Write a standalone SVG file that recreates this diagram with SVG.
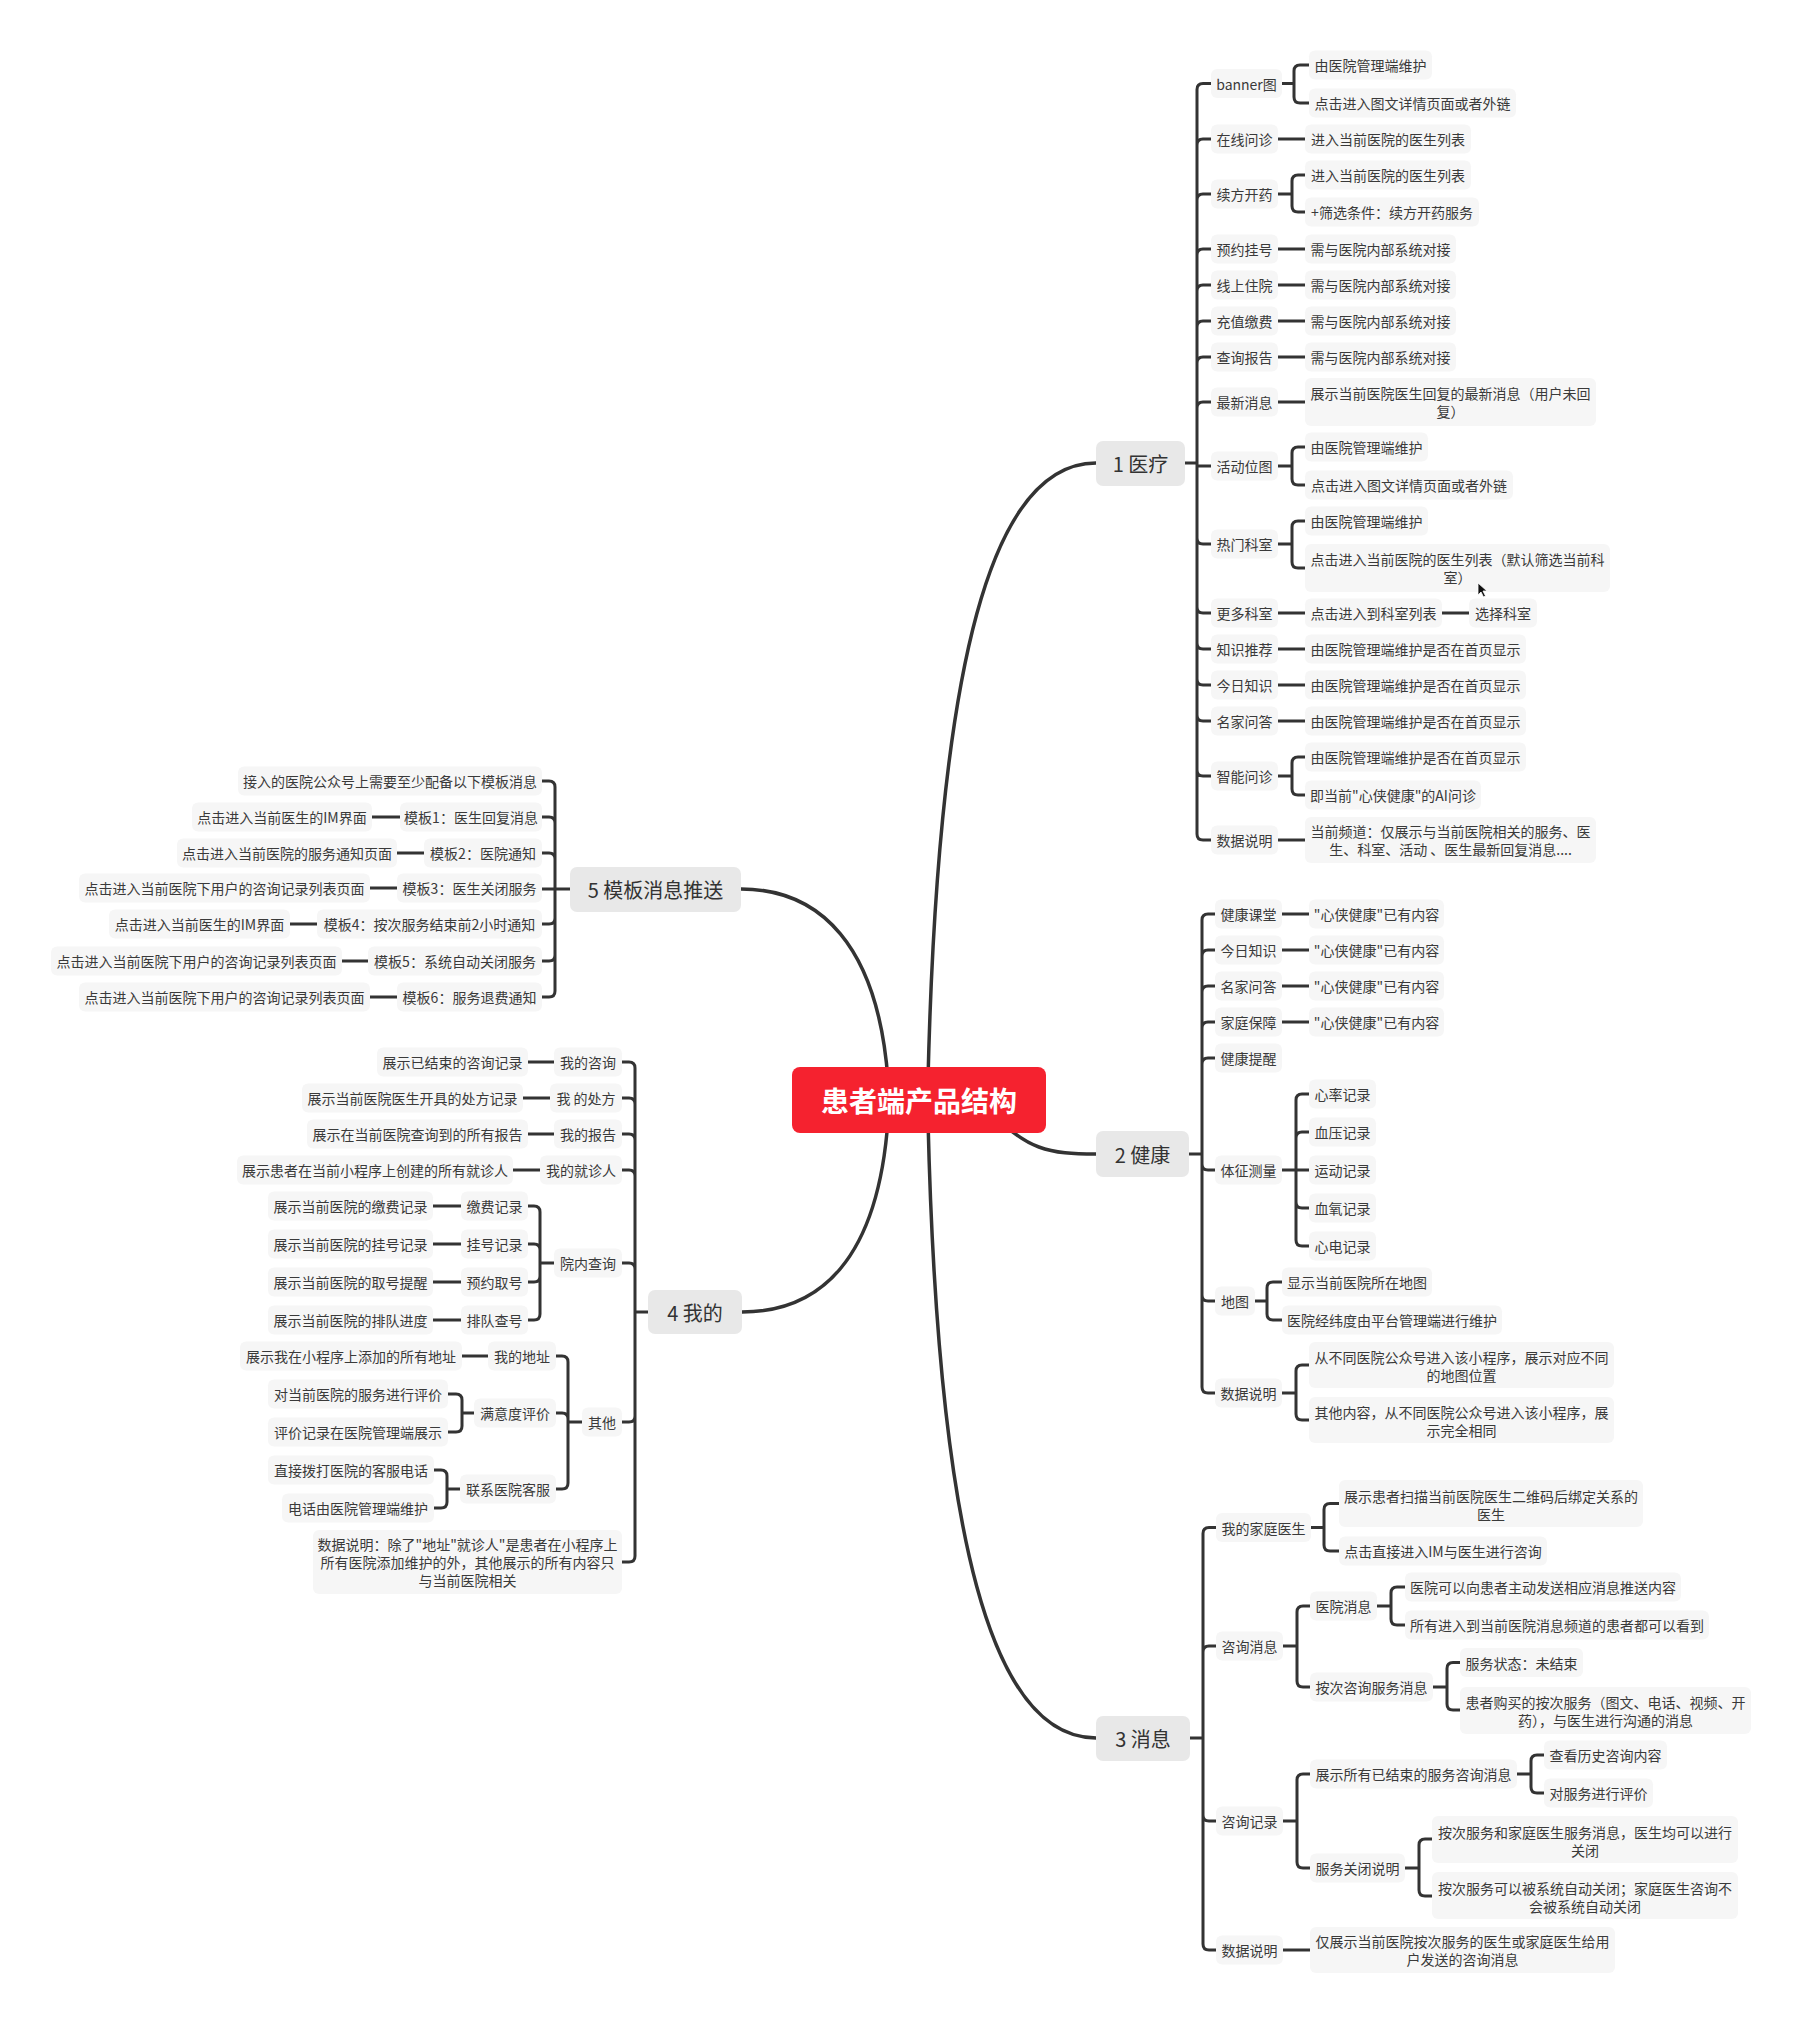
<svg xmlns="http://www.w3.org/2000/svg" width="1802" height="2024" viewBox="0 0 1802 2024">
<style>
text{font-family:"Noto Sans CJK SC","Noto Sans",sans-serif;fill:#3a3a3a;text-anchor:middle;dominant-baseline:central;font-size:14px}
.l{fill:#f6f6f6}
.b{fill:#e8e8e8}
.bt{font-size:20px;fill:#333}
.c{fill:none;stroke:#333;stroke-width:3}
.m{fill:none;stroke:#333;stroke-width:3.5}
</style>
<rect width="1802" height="2024" fill="#fff"/>
<g id="connectors">
<path class="m" d="M928,1080 C938,660 992,463 1096,463"/>
<path class="m" d="M990,1110 C1025,1150 1050,1154 1096,1154"/>
<path class="m" d="M928,1120 C938,1540 992,1738 1096,1738"/>
<path class="m" d="M888,1120 C878,1260 820,1312 742,1312"/>
<path class="m" d="M888,1080 C878,945 820,889 741,889"/>
<!-- medical spine -->
<path class="c" d="M1185,463H1197V89.5Q1197,83.5 1203,83.5H1211
M1185,463H1197V145Q1197,139 1203,139H1211
M1185,463H1197V200Q1197,194 1203,194H1211
M1185,463H1197V255Q1197,249 1203,249H1211
M1185,463H1197V291Q1197,285 1203,285H1211
M1185,463H1197V327Q1197,321 1203,321H1211
M1185,463H1197V363Q1197,357 1203,357H1211
M1185,463H1197V408Q1197,402 1203,402H1211
M1185,463H1197V466H1211
M1185,463H1197V538Q1197,544 1203,544H1211
M1185,463H1197V607Q1197,613 1203,613H1211
M1185,463H1197V643Q1197,649 1203,649H1211
M1185,463H1197V679Q1197,685 1203,685H1211
M1185,463H1197V715Q1197,721 1203,721H1211
M1185,463H1197V770Q1197,776 1203,776H1211
M1185,463H1197V834Q1197,840 1203,840H1211"/>
<!-- medical level 2 -->
<path class="c" d="M1282,83.5H1294V71Q1294,65 1300,65H1309M1282,83.5H1294V97Q1294,103 1300,103H1309"/>
<path class="c" d="M1278,139H1305"/>
<path class="c" d="M1278,194H1292V181Q1292,175 1298,175H1305M1278,194H1292V206Q1292,212 1298,212H1305"/>
<path class="c" d="M1278,249H1305M1278,285H1305M1278,321H1305M1278,357H1305M1278,402H1305"/>
<path class="c" d="M1278,466H1292V453Q1292,447 1298,447H1305M1278,466H1292V479Q1292,485 1298,485H1305"/>
<path class="c" d="M1278,544H1292V527Q1292,521 1298,521H1305M1278,544H1292V562Q1292,568 1298,568H1305"/>
<path class="c" d="M1278,613H1305M1442,613H1469M1278,649H1305M1278,685H1305M1278,721H1305"/>
<path class="c" d="M1278,776H1292V763Q1292,757 1298,757H1305M1278,776H1292V789Q1292,795 1298,795H1305"/>
<path class="c" d="M1278,840H1305"/>
<!-- health spine -->
<path class="c" d="M1189,1154H1202V920Q1202,914 1208,914H1215
M1189,1154H1202V956Q1202,950 1208,950H1215
M1189,1154H1202V992Q1202,986 1208,986H1215
M1189,1154H1202V1028Q1202,1022 1208,1022H1215
M1189,1154H1202V1064Q1202,1058 1208,1058H1215
M1189,1154H1202V1164Q1202,1170 1208,1170H1215
M1189,1154H1202V1295Q1202,1301 1208,1301H1215
M1189,1154H1202V1387Q1202,1393 1208,1393H1215"/>
<!-- health level 2 -->
<path class="c" d="M1282,914H1309M1282,950H1309M1282,986H1309M1282,1022H1309"/>
<path class="c" d="M1282,1170H1296V1100Q1296,1094 1302,1094H1309
M1282,1170H1296V1138Q1296,1132 1302,1132H1309
M1282,1170H1309
M1282,1170H1296V1202Q1296,1208 1302,1208H1309
M1282,1170H1296V1240Q1296,1246 1302,1246H1309"/>
<path class="c" d="M1255,1301H1267V1288Q1267,1282 1273,1282H1282M1255,1301H1267V1314Q1267,1320 1273,1320H1282"/>
<path class="c" d="M1282,1393H1296V1371Q1296,1365 1302,1365H1309M1282,1393H1296V1414Q1296,1420 1302,1420H1309"/>
<!-- message spine -->
<path class="c" d="M1190,1738H1203V1533.5Q1203,1527.5 1209,1527.5H1216
M1190,1738H1203V1652Q1203,1646 1209,1646H1216
M1190,1738H1203V1815Q1203,1821 1209,1821H1216
M1190,1738H1203V1944Q1203,1950 1209,1950H1216"/>
<!-- message level 2/3 -->
<path class="c" d="M1311,1527.5H1324V1509.5Q1324,1503.5 1330,1503.5H1339M1311,1527.5H1324V1545Q1324,1551 1330,1551H1339"/>
<path class="c" d="M1283,1646H1297V1612Q1297,1606 1303,1606H1310M1283,1646H1297V1681Q1297,1687 1303,1687H1310"/>
<path class="c" d="M1377,1606H1391V1593Q1391,1587 1397,1587H1405M1377,1606H1391V1619Q1391,1625 1397,1625H1405"/>
<path class="c" d="M1433,1687H1447V1668.5Q1447,1662.5 1453,1662.5H1460M1433,1687H1447V1704Q1447,1710 1453,1710H1460"/>
<path class="c" d="M1283,1821H1297V1780Q1297,1774 1303,1774H1310M1283,1821H1297V1862Q1297,1868 1303,1868H1310"/>
<path class="c" d="M1517,1774H1531V1761Q1531,1755 1537,1755H1544M1517,1774H1531V1787Q1531,1793 1537,1793H1544"/>
<path class="c" d="M1405,1868H1419V1845Q1419,1839 1425,1839H1432M1405,1868H1419V1890Q1419,1896 1425,1896H1432"/>
<path class="c" d="M1283,1950H1310"/>
<!-- template spine -->
<path class="c" d="M570,889H555V787Q555,781 549,781H542
M570,889H555V823Q555,817 549,817H542
M570,889H555V859Q555,853 549,853H542
M570,889H542
M570,889H555V918Q555,924 549,924H542
M570,889H555V955Q555,961 549,961H542
M570,889H555V991Q555,997 549,997H542"/>
<path class="c" d="M400,817H372M424,853H397M397,888H370M317,924H290M368,961H342M397,997H370"/>
<!-- mine spine -->
<path class="c" d="M648,1312H635V1068Q635,1062 629,1062H622
M648,1312H635V1104Q635,1098 629,1098H622
M648,1312H635V1140Q635,1134 629,1134H622
M648,1312H635V1176Q635,1170 629,1170H622
M648,1312H635V1269Q635,1263 629,1263H622
M648,1312H635V1416Q635,1422 629,1422H622
M648,1312H635V1556Q635,1562 629,1562H622"/>
<path class="c" d="M554,1062H528M550,1098H523M554,1134H528M540,1170H513"/>
<path class="c" d="M554,1263H540V1212Q540,1206 534,1206H528
M554,1263H540V1250Q540,1244 534,1244H528
M554,1263H540V1276Q540,1282 534,1282H528
M554,1263H540V1314Q540,1320 534,1320H528"/>
<path class="c" d="M461,1206H433M461,1244H433M461,1282H433M461,1320H433"/>
<path class="c" d="M582,1422H568V1362Q568,1356 562,1356H556
M582,1422H568V1419Q568,1413 562,1413H556
M582,1422H568V1483Q568,1489 562,1489H556"/>
<path class="c" d="M488,1356H462"/>
<path class="c" d="M474,1413H462V1400Q462,1394 456,1394H448M474,1413H462V1426Q462,1432 456,1432H448"/>
<path class="c" d="M460,1489H447V1476Q447,1470 441,1470H434M460,1489H447V1502Q447,1508 441,1508H434"/>
</g>

<g id="root"><rect x="792" y="1067" width="254" height="66" rx="8" fill="#f5222f"/><text x="919" y="1100" style="font-size:28px;font-weight:bold;fill:#fff">患者端产品结构</text></g>

<g id="b1"><rect class="b" x="1096" y="441" width="89" height="45" rx="7"/><text class="bt" x="1140.5" y="463">1 医疗</text></g>
<g id="b2"><rect class="b" x="1096" y="1131" width="93" height="46" rx="7"/><text class="bt" x="1142.5" y="1154">2 健康</text></g>
<g id="b3"><rect class="b" x="1096" y="1716" width="94" height="45" rx="7"/><text class="bt" x="1143" y="1738">3 消息</text></g>
<g id="b4"><rect class="b" x="648" y="1290" width="94" height="44" rx="7"/><text class="bt" x="695" y="1312">4 我的</text></g>
<g id="b5"><rect class="b" x="570" y="867" width="171" height="45" rx="7"/><text class="bt" x="655.5" y="889">5 模板消息推送</text></g>

<!-- medical -->
<g id="m1"><rect class="l" x="1211" y="69" width="71" height="29" rx="6"/><text x="1246.5" y="83.5">banner图</text></g>
<g id="m1a"><rect class="l" x="1309" y="50.5" width="123" height="29" rx="6"/><text x="1370.5" y="65">由医院管理端维护</text></g>
<g id="m1b"><rect class="l" x="1309" y="88.5" width="207" height="29" rx="6"/><text x="1412.5" y="103">点击进入图文详情页面或者外链</text></g>
<g id="m2"><rect class="l" x="1211" y="124.5" width="67" height="29" rx="6"/><text x="1244.5" y="139">在线问诊</text></g>
<g id="m2a"><rect class="l" x="1305" y="124.5" width="166" height="29" rx="6"/><text x="1388" y="139">进入当前医院的医生列表</text></g>
<g id="m3"><rect class="l" x="1211" y="179.5" width="67" height="29" rx="6"/><text x="1244.5" y="194">续方开药</text></g>
<g id="m3a"><rect class="l" x="1305" y="160.5" width="166" height="29" rx="6"/><text x="1388" y="175">进入当前医院的医生列表</text></g>
<g id="m3b"><rect class="l" x="1305" y="197.5" width="174" height="29" rx="6"/><text x="1392" y="212">+筛选条件：续方开药服务</text></g>
<g id="m4"><rect class="l" x="1211" y="234.5" width="67" height="29" rx="6"/><text x="1244.5" y="249">预约挂号</text></g>
<g id="m4a"><rect class="l" x="1305" y="234.5" width="151" height="29" rx="6"/><text x="1380.5" y="249">需与医院内部系统对接</text></g>
<g id="m5"><rect class="l" x="1211" y="270.5" width="67" height="29" rx="6"/><text x="1244.5" y="285">线上住院</text></g>
<g id="m5a"><rect class="l" x="1305" y="270.5" width="151" height="29" rx="6"/><text x="1380.5" y="285">需与医院内部系统对接</text></g>
<g id="m6"><rect class="l" x="1211" y="306.5" width="67" height="29" rx="6"/><text x="1244.5" y="321">充值缴费</text></g>
<g id="m6a"><rect class="l" x="1305" y="306.5" width="151" height="29" rx="6"/><text x="1380.5" y="321">需与医院内部系统对接</text></g>
<g id="m7"><rect class="l" x="1211" y="342.5" width="67" height="29" rx="6"/><text x="1244.5" y="357">查询报告</text></g>
<g id="m7a"><rect class="l" x="1305" y="342.5" width="151" height="29" rx="6"/><text x="1380.5" y="357">需与医院内部系统对接</text></g>
<g id="m8"><rect class="l" x="1211" y="387.5" width="67" height="29" rx="6"/><text x="1244.5" y="402">最新消息</text></g>
<g id="m8a"><rect class="l" x="1305" y="378" width="291" height="48" rx="6"/><text x="1450.5" y="393">展示当前医院医生回复的最新消息（用户未回</text><text x="1450.5" y="411">复）</text></g>
<g id="m9"><rect class="l" x="1211" y="451.5" width="67" height="29" rx="6"/><text x="1244.5" y="466">活动位图</text></g>
<g id="m9a"><rect class="l" x="1305" y="432.5" width="123" height="29" rx="6"/><text x="1366.5" y="447">由医院管理端维护</text></g>
<g id="m9b"><rect class="l" x="1305" y="470.5" width="208" height="29" rx="6"/><text x="1409" y="485">点击进入图文详情页面或者外链</text></g>
<g id="m10"><rect class="l" x="1211" y="529.5" width="67" height="29" rx="6"/><text x="1244.5" y="544">热门科室</text></g>
<g id="m10a"><rect class="l" x="1305" y="506.5" width="123" height="29" rx="6"/><text x="1366.5" y="521">由医院管理端维护</text></g>
<g id="m10b"><rect class="l" x="1305" y="544" width="305" height="48" rx="6"/><text x="1457.5" y="559">点击进入当前医院的医生列表（默认筛选当前科</text><text x="1457.5" y="577">室）</text></g>
<g id="m11"><rect class="l" x="1211" y="598.5" width="67" height="29" rx="6"/><text x="1244.5" y="613">更多科室</text></g>
<g id="m11a"><rect class="l" x="1305" y="598.5" width="137" height="29" rx="6"/><text x="1373.5" y="613">点击进入到科室列表</text></g>
<g id="m11b"><rect class="l" x="1469" y="598.5" width="68" height="29" rx="6"/><text x="1503" y="613">选择科室</text></g>
<g id="m12"><rect class="l" x="1211" y="634.5" width="67" height="29" rx="6"/><text x="1244.5" y="649">知识推荐</text></g>
<g id="m12a"><rect class="l" x="1305" y="634.5" width="221" height="29" rx="6"/><text x="1415.5" y="649">由医院管理端维护是否在首页显示</text></g>
<g id="m13"><rect class="l" x="1211" y="670.5" width="67" height="29" rx="6"/><text x="1244.5" y="685">今日知识</text></g>
<g id="m13a"><rect class="l" x="1305" y="670.5" width="221" height="29" rx="6"/><text x="1415.5" y="685">由医院管理端维护是否在首页显示</text></g>
<g id="m14"><rect class="l" x="1211" y="706.5" width="67" height="29" rx="6"/><text x="1244.5" y="721">名家问答</text></g>
<g id="m14a"><rect class="l" x="1305" y="706.5" width="221" height="29" rx="6"/><text x="1415.5" y="721">由医院管理端维护是否在首页显示</text></g>
<g id="m15"><rect class="l" x="1211" y="761.5" width="67" height="29" rx="6"/><text x="1244.5" y="776">智能问诊</text></g>
<g id="m15a"><rect class="l" x="1305" y="742.5" width="221" height="29" rx="6"/><text x="1415.5" y="757">由医院管理端维护是否在首页显示</text></g>
<g id="m15b"><rect class="l" x="1305" y="780.5" width="176" height="29" rx="6"/><text x="1393" y="795">即当前"心侠健康"的AI问诊</text></g>
<g id="m16"><rect class="l" x="1211" y="825.5" width="67" height="29" rx="6"/><text x="1244.5" y="840">数据说明</text></g>
<g id="m16a"><rect class="l" x="1305" y="817" width="291" height="46" rx="6"/><text x="1450.5" y="831">当前频道：仅展示与当前医院相关的服务、医</text><text x="1450.5" y="849">生、科室、活动 、医生最新回复消息....</text></g>
<g id="cursor"><path d="M1478,583 L1478,595 L1481,592 L1483.5,597 L1485.5,596 L1483,591 L1487,591 Z" fill="#111" stroke="#fff" stroke-width="0.8"/></g>

<!-- health -->
<g id="h1"><rect class="l" x="1215" y="899.5" width="67" height="29" rx="6"/><text x="1248.5" y="914">健康课堂</text></g>
<g id="h1a"><rect class="l" x="1309" y="899.5" width="135" height="29" rx="6"/><text x="1376.5" y="914">"心侠健康"已有内容</text></g>
<g id="h2"><rect class="l" x="1215" y="935.5" width="67" height="29" rx="6"/><text x="1248.5" y="950">今日知识</text></g>
<g id="h2a"><rect class="l" x="1309" y="935.5" width="135" height="29" rx="6"/><text x="1376.5" y="950">"心侠健康"已有内容</text></g>
<g id="h3"><rect class="l" x="1215" y="971.5" width="67" height="29" rx="6"/><text x="1248.5" y="986">名家问答</text></g>
<g id="h3a"><rect class="l" x="1309" y="971.5" width="135" height="29" rx="6"/><text x="1376.5" y="986">"心侠健康"已有内容</text></g>
<g id="h4"><rect class="l" x="1215" y="1007.5" width="67" height="29" rx="6"/><text x="1248.5" y="1022">家庭保障</text></g>
<g id="h4a"><rect class="l" x="1309" y="1007.5" width="135" height="29" rx="6"/><text x="1376.5" y="1022">"心侠健康"已有内容</text></g>
<g id="h5"><rect class="l" x="1215" y="1043.5" width="67" height="29" rx="6"/><text x="1248.5" y="1058">健康提醒</text></g>
<g id="h6"><rect class="l" x="1215" y="1155.5" width="67" height="29" rx="6"/><text x="1248.5" y="1170">体征测量</text></g>
<g id="h6a"><rect class="l" x="1309" y="1079.5" width="67" height="29" rx="6"/><text x="1342.5" y="1094">心率记录</text></g>
<g id="h6b"><rect class="l" x="1309" y="1117.5" width="67" height="29" rx="6"/><text x="1342.5" y="1132">血压记录</text></g>
<g id="h6c"><rect class="l" x="1309" y="1155.5" width="67" height="29" rx="6"/><text x="1342.5" y="1170">运动记录</text></g>
<g id="h6d"><rect class="l" x="1309" y="1193.5" width="67" height="29" rx="6"/><text x="1342.5" y="1208">血氧记录</text></g>
<g id="h6e"><rect class="l" x="1309" y="1231.5" width="67" height="29" rx="6"/><text x="1342.5" y="1246">心电记录</text></g>
<g id="h7"><rect class="l" x="1215" y="1286.5" width="40" height="29" rx="6"/><text x="1235" y="1301">地图</text></g>
<g id="h7a"><rect class="l" x="1282" y="1267.5" width="150" height="29" rx="6"/><text x="1357" y="1282">显示当前医院所在地图</text></g>
<g id="h7b"><rect class="l" x="1282" y="1305.5" width="220" height="29" rx="6"/><text x="1392" y="1320">医院经纬度由平台管理端进行维护</text></g>
<g id="h8"><rect class="l" x="1215" y="1378.5" width="67" height="29" rx="6"/><text x="1248.5" y="1393">数据说明</text></g>
<g id="h8a"><rect class="l" x="1309" y="1342" width="305" height="46" rx="6"/><text x="1461.5" y="1356.5">从不同医院公众号进入该小程序，展示对应不同</text><text x="1461.5" y="1374.5">的地图位置</text></g>
<g id="h8b"><rect class="l" x="1309" y="1397" width="305" height="46" rx="6"/><text x="1461.5" y="1411.5">其他内容，从不同医院公众号进入该小程序，展</text><text x="1461.5" y="1429.5">示完全相同</text></g>

<!-- messages -->
<g id="x1"><rect class="l" x="1216" y="1513" width="95" height="29" rx="6"/><text x="1263.5" y="1527.5">我的家庭医生</text></g>
<g id="x1a"><rect class="l" x="1339" y="1480" width="304" height="47" rx="6"/><text x="1491" y="1495.5">展示患者扫描当前医院医生二维码后绑定关系的</text><text x="1491" y="1513.5">医生</text></g>
<g id="x1b"><rect class="l" x="1339" y="1536.5" width="208" height="29" rx="6"/><text x="1443" y="1551">点击直接进入IM与医生进行咨询</text></g>
<g id="x2"><rect class="l" x="1216" y="1631.5" width="67" height="29" rx="6"/><text x="1249.5" y="1646">咨询消息</text></g>
<g id="x2a"><rect class="l" x="1310" y="1591.5" width="67" height="29" rx="6"/><text x="1343.5" y="1606">医院消息</text></g>
<g id="x2a1"><rect class="l" x="1405" y="1572.5" width="276" height="29" rx="6"/><text x="1543" y="1587">医院可以向患者主动发送相应消息推送内容</text></g>
<g id="x2a2"><rect class="l" x="1405" y="1610.5" width="304" height="29" rx="6"/><text x="1557" y="1625">所有进入到当前医院消息频道的患者都可以看到</text></g>
<g id="x2b"><rect class="l" x="1310" y="1672.5" width="123" height="29" rx="6"/><text x="1371.5" y="1687">按次咨询服务消息</text></g>
<g id="x2b1"><rect class="l" x="1460" y="1648" width="123" height="29" rx="6"/><text x="1521.5" y="1662.5">服务状态：未结束</text></g>
<g id="x2b2"><rect class="l" x="1460" y="1687" width="291" height="47" rx="6"/><text x="1605.5" y="1701.5">患者购买的按次服务（图文、电话、视频、开</text><text x="1605.5" y="1719.5">药），与医生进行沟通的消息</text></g>
<g id="x3"><rect class="l" x="1216" y="1806.5" width="67" height="29" rx="6"/><text x="1249.5" y="1821">咨询记录</text></g>
<g id="x3a"><rect class="l" x="1310" y="1759.5" width="207" height="29" rx="6"/><text x="1413.5" y="1774">展示所有已结束的服务咨询消息</text></g>
<g id="x3a1"><rect class="l" x="1544" y="1740.5" width="123" height="29" rx="6"/><text x="1605.5" y="1755">查看历史咨询内容</text></g>
<g id="x3a2"><rect class="l" x="1544" y="1778.5" width="109" height="29" rx="6"/><text x="1598.5" y="1793">对服务进行评价</text></g>
<g id="x3b"><rect class="l" x="1310" y="1853.5" width="95" height="29" rx="6"/><text x="1357.5" y="1868">服务关闭说明</text></g>
<g id="x3b1"><rect class="l" x="1432" y="1816" width="306" height="47" rx="6"/><text x="1585" y="1831.5">按次服务和家庭医生服务消息，医生均可以进行</text><text x="1585" y="1849.5">关闭</text></g>
<g id="x3b2"><rect class="l" x="1432" y="1872" width="306" height="47" rx="6"/><text x="1585" y="1887.5">按次服务可以被系统自动关闭；家庭医生咨询不</text><text x="1585" y="1905.5">会被系统自动关闭</text></g>
<g id="x4"><rect class="l" x="1216" y="1935.5" width="67" height="29" rx="6"/><text x="1249.5" y="1950">数据说明</text></g>
<g id="x4a"><rect class="l" x="1310" y="1927" width="305" height="46" rx="6"/><text x="1462.5" y="1941">仅展示当前医院按次服务的医生或家庭医生给用</text><text x="1462.5" y="1959">户发送的咨询消息</text></g>

<!-- templates -->
<g id="t0"><rect class="l" x="238" y="766.5" width="304" height="29" rx="6"/><text x="390" y="781">接入的医院公众号上需要至少配备以下模板消息</text></g>
<g id="t1"><rect class="l" x="400" y="802.5" width="142" height="29" rx="6"/><text x="471" y="817">模板1：医生回复消息</text></g>
<g id="t1a"><rect class="l" x="192" y="802.5" width="180" height="29" rx="6"/><text x="282" y="817">点击进入当前医生的IM界面</text></g>
<g id="t2"><rect class="l" x="424" y="838.5" width="118" height="29" rx="6"/><text x="483" y="853">模板2：医院通知</text></g>
<g id="t2a"><rect class="l" x="177" y="838.5" width="220" height="29" rx="6"/><text x="287" y="853">点击进入当前医院的服务通知页面</text></g>
<g id="t3"><rect class="l" x="397" y="873.5" width="145" height="29" rx="6"/><text x="469.5" y="888">模板3：医生关闭服务</text></g>
<g id="t3a"><rect class="l" x="79" y="873.5" width="291" height="29" rx="6"/><text x="224.5" y="888">点击进入当前医院下用户的咨询记录列表页面</text></g>
<g id="t4"><rect class="l" x="317" y="909.5" width="225" height="29" rx="6"/><text x="429.5" y="924">模板4：按次服务结束前2小时通知</text></g>
<g id="t4a"><rect class="l" x="109" y="909.5" width="181" height="29" rx="6"/><text x="199.5" y="924">点击进入当前医生的IM界面</text></g>
<g id="t5"><rect class="l" x="368" y="946.5" width="174" height="29" rx="6"/><text x="455" y="961">模板5：系统自动关闭服务</text></g>
<g id="t5a"><rect class="l" x="51" y="946.5" width="291" height="29" rx="6"/><text x="196.5" y="961">点击进入当前医院下用户的咨询记录列表页面</text></g>
<g id="t6"><rect class="l" x="397" y="982.5" width="145" height="29" rx="6"/><text x="469.5" y="997">模板6：服务退费通知</text></g>
<g id="t6a"><rect class="l" x="79" y="982.5" width="291" height="29" rx="6"/><text x="224.5" y="997">点击进入当前医院下用户的咨询记录列表页面</text></g>

<!-- mine -->
<g id="w1"><rect class="l" x="554" y="1047.5" width="68" height="29" rx="6"/><text x="588" y="1062">我的咨询</text></g>
<g id="w1a"><rect class="l" x="377" y="1047.5" width="151" height="29" rx="6"/><text x="452.5" y="1062">展示已结束的咨询记录</text></g>
<g id="w2"><rect class="l" x="550" y="1083.5" width="72" height="29" rx="6"/><text x="586" y="1098">我 的处方</text></g>
<g id="w2a"><rect class="l" x="302" y="1083.5" width="221" height="29" rx="6"/><text x="412.5" y="1098">展示当前医院医生开具的处方记录</text></g>
<g id="w3"><rect class="l" x="554" y="1119.5" width="68" height="29" rx="6"/><text x="588" y="1134">我的报告</text></g>
<g id="w3a"><rect class="l" x="307" y="1119.5" width="221" height="29" rx="6"/><text x="417.5" y="1134">展示在当前医院查询到的所有报告</text></g>
<g id="w4"><rect class="l" x="540" y="1155.5" width="82" height="29" rx="6"/><text x="581" y="1170">我的就诊人</text></g>
<g id="w4a"><rect class="l" x="237" y="1155.5" width="276" height="29" rx="6"/><text x="375" y="1170">展示患者在当前小程序上创建的所有就诊人</text></g>
<g id="w5"><rect class="l" x="554" y="1248.5" width="68" height="29" rx="6"/><text x="588" y="1263">院内查询</text></g>
<g id="w5a"><rect class="l" x="461" y="1191.5" width="67" height="29" rx="6"/><text x="494.5" y="1206">缴费记录</text></g>
<g id="w5a1"><rect class="l" x="268" y="1191.5" width="165" height="29" rx="6"/><text x="350.5" y="1206">展示当前医院的缴费记录</text></g>
<g id="w5b"><rect class="l" x="461" y="1229.5" width="67" height="29" rx="6"/><text x="494.5" y="1244">挂号记录</text></g>
<g id="w5b1"><rect class="l" x="268" y="1229.5" width="165" height="29" rx="6"/><text x="350.5" y="1244">展示当前医院的挂号记录</text></g>
<g id="w5c"><rect class="l" x="461" y="1267.5" width="67" height="29" rx="6"/><text x="494.5" y="1282">预约取号</text></g>
<g id="w5c1"><rect class="l" x="268" y="1267.5" width="165" height="29" rx="6"/><text x="350.5" y="1282">展示当前医院的取号提醒</text></g>
<g id="w5d"><rect class="l" x="461" y="1305.5" width="67" height="29" rx="6"/><text x="494.5" y="1320">排队查号</text></g>
<g id="w5d1"><rect class="l" x="268" y="1305.5" width="165" height="29" rx="6"/><text x="350.5" y="1320">展示当前医院的排队进度</text></g>
<g id="w6"><rect class="l" x="582" y="1407.5" width="40" height="29" rx="6"/><text x="602" y="1422">其他</text></g>
<g id="w6a"><rect class="l" x="488" y="1341.5" width="68" height="29" rx="6"/><text x="522" y="1356">我的地址</text></g>
<g id="w6a1"><rect class="l" x="240" y="1341.5" width="222" height="29" rx="6"/><text x="351" y="1356">展示我在小程序上添加的所有地址</text></g>
<g id="w6b"><rect class="l" x="474" y="1398.5" width="82" height="29" rx="6"/><text x="515" y="1413">满意度评价</text></g>
<g id="w6b1"><rect class="l" x="268" y="1379.5" width="180" height="29" rx="6"/><text x="358" y="1394">对当前医院的服务进行评价</text></g>
<g id="w6b2"><rect class="l" x="268" y="1417.5" width="180" height="29" rx="6"/><text x="358" y="1432">评价记录在医院管理端展示</text></g>
<g id="w6c"><rect class="l" x="460" y="1474.5" width="96" height="29" rx="6"/><text x="508" y="1489">联系医院客服</text></g>
<g id="w6c1"><rect class="l" x="268" y="1455.5" width="166" height="29" rx="6"/><text x="351" y="1470">直接拨打医院的客服电话</text></g>
<g id="w6c2"><rect class="l" x="282" y="1493.5" width="152" height="29" rx="6"/><text x="358" y="1508">电话由医院管理端维护</text></g>
<g id="w7"><rect class="l" x="313" y="1530" width="309" height="64" rx="6"/><text x="467.5" y="1544">数据说明：除了"地址"就诊人"是患者在小程序上</text><text x="467.5" y="1562">所有医院添加维护的外，其他展示的所有内容只</text><text x="467.5" y="1580">与当前医院相关</text></g>
</svg>
